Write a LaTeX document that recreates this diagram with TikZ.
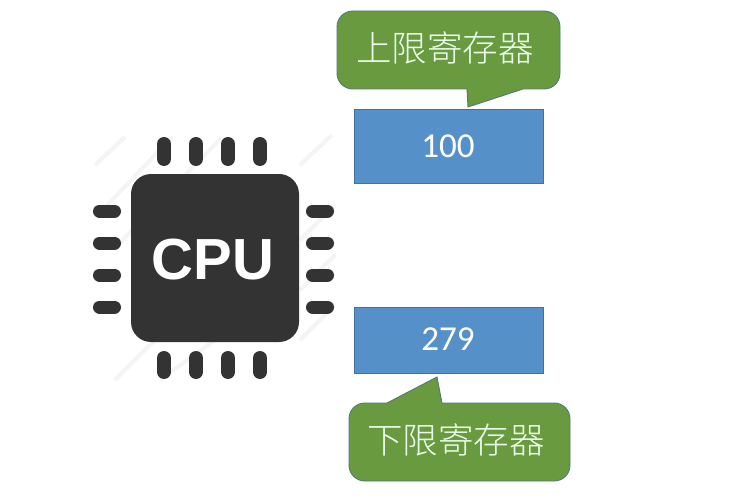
\documentclass[tikz,border=0pt]{standalone}
\usepackage{fontspec}
\setmainfont{Carlito}
\newfontfamily\cjk{Noto Sans CJK SC Light}
\newfontfamily\cpufont[Scale=1]{Liberation Sans}
\definecolor{chip}{HTML}{333333}
\definecolor{boxblue}{HTML}{5590C8}
\definecolor{boxedge}{HTML}{41719C}
\definecolor{calloutgreen}{HTML}{6A9A40}
\definecolor{calloutedge}{HTML}{4F7A78}
\definecolor{hatch}{HTML}{F4F4F4}
\tikzset{
  x=1pt,y=-1pt,
  pin/.style={line width=14pt,line cap=round,draw=chip},
  pinh/.style={line width=13pt,line cap=round,draw=chip},
  stripe/.style={draw=hatch,line width=4pt},
  regbox/.style={fill=boxblue,draw=boxedge,line width=0.8pt},
  callout/.style={fill=calloutgreen,draw=calloutedge,line width=0.9pt},
  numtext/.style={text=white,font=\fontsize{35}{35}\selectfont,inner sep=0pt},
  cjktext/.style={text=white!92!green,font=\cjk\fontsize{35.5}{35.5}\selectfont,inner sep=0pt},
}
\begin{document}
\begin{tikzpicture}
\useasboundingbox (0,0) rectangle (732,503);
\fill[white] (0,0) rectangle (732,503);
% faint hatching behind the chip
\foreach \a/\b/\c/\d in {95/165/125/137, 98/215/172/137, 118/245/222/137, 300/165/332/135, 115/380/165/330, 160/380/215/340, 300/340/335/305, 300/290/335/255, 300/240/335/205}
  \draw[stripe] (\a,\b) -- (\c,\d);
% pins
\foreach \x in {164,196,228,260} {
  \draw[pin] (\x,144) -- (\x,159);
  \draw[pin] (\x,358) -- (\x,372);
}
\foreach \y in {211,243,275,307} {
  \draw[pinh] (99.5,\y) -- (114.5,\y);
  \draw[pinh] (312.5,\y) -- (327.5,\y);
}
% chip body
\fill[chip,rounded corners=20pt] (131,174) rectangle (299,342);
\node[text=white,font=\cpufont\bfseries\fontsize{58}{58}\selectfont,inner sep=0pt] (cpu) at (213,259.5) {CPU};
% registers
\draw[regbox] (354,109) rectangle (543,183);
\node[numtext] (upperval) at (448,146) {100};
\draw[regbox] (354,307) rectangle (543,373);
\node[numtext] (lowerval) at (448,339) {279};
% upper callout
\draw[callout] (337,27) .. controls (337,18) and (344,11) .. (353,11) -- (544,11)
  .. controls (553,11) and (560,18) .. (560,27) -- (560,73)
  .. controls (560,82) and (553,89) .. (544,89) -- (523,89) -- (468,107) -- (467,89) -- (353,89)
  .. controls (344,89) and (337,82) .. (337,73) -- cycle;
\node[cjktext] (uppertext) at (445,48) {上限寄存器};
% lower callout
\draw[callout] (349,419) .. controls (349,410) and (356,403) .. (365,403) -- (387,403) -- (437,377) -- (442,403) -- (554,403)
  .. controls (563,403) and (570,410) .. (570,419) -- (570,465)
  .. controls (570,474) and (563,481) .. (554,481) -- (365,481)
  .. controls (356,481) and (349,474) .. (349,465) -- cycle;
\node[cjktext] (lowertext) at (456,440) {下限寄存器};
\end{tikzpicture}
\end{document}
